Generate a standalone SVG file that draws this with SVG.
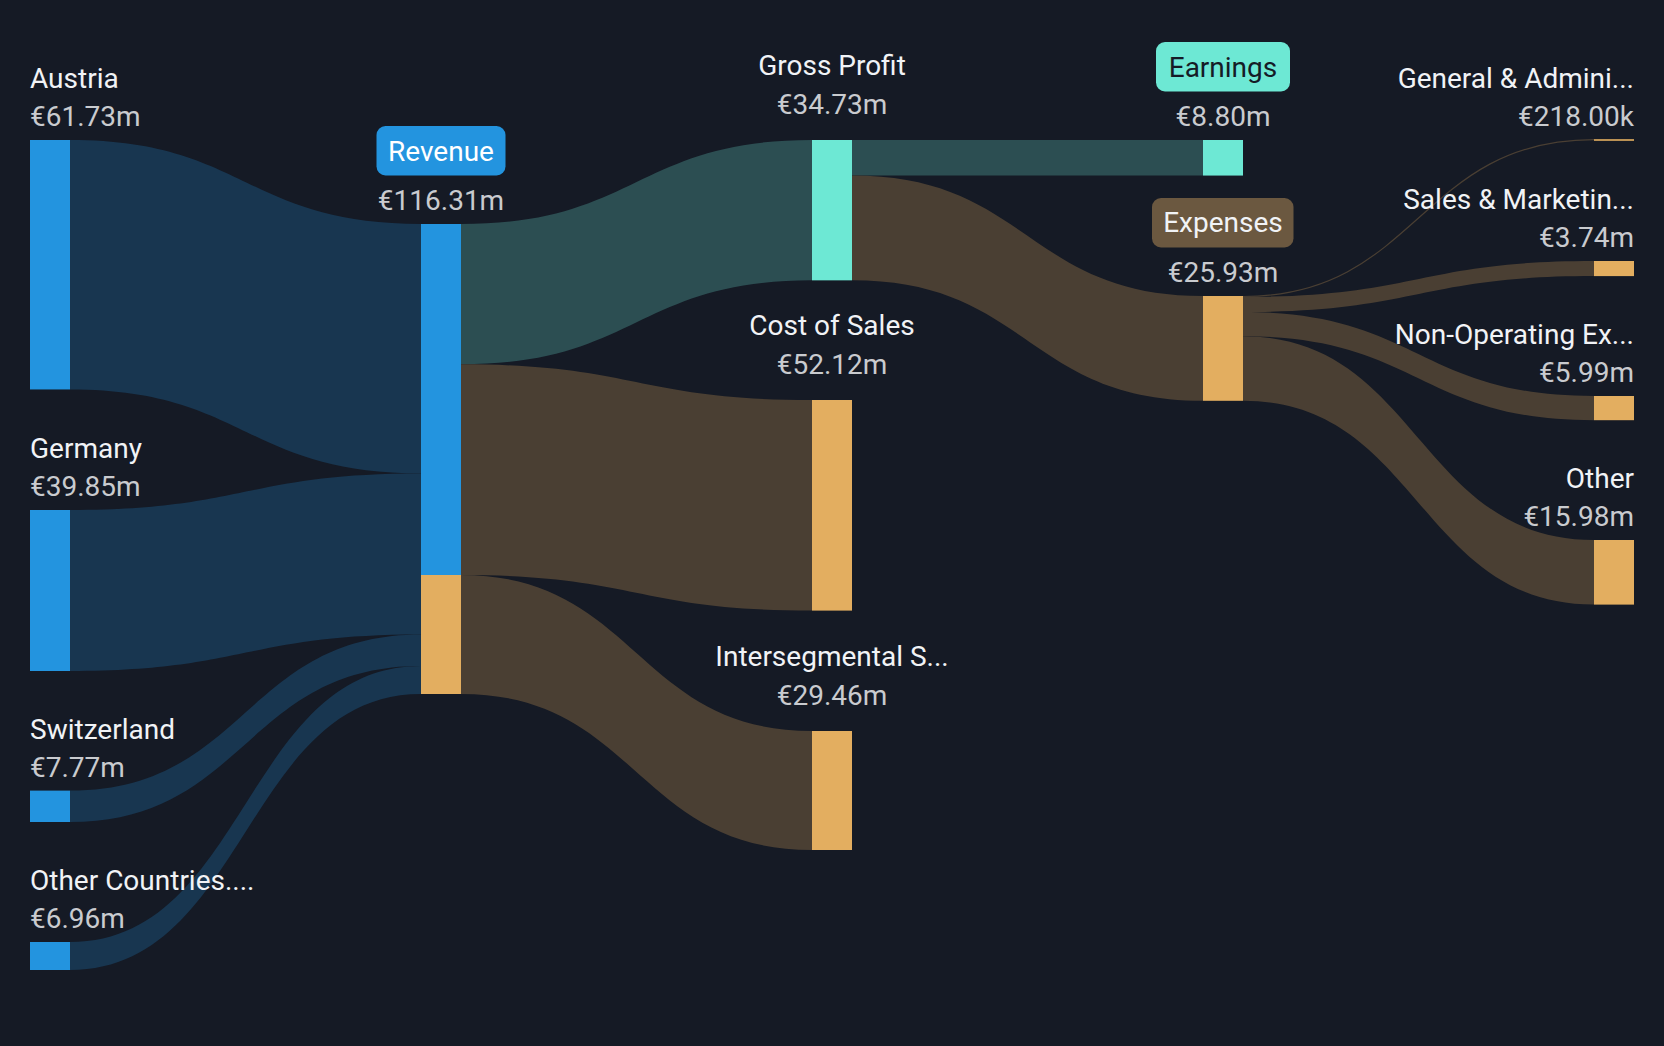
<svg xmlns="http://www.w3.org/2000/svg" width="1664" height="1046" viewBox="0 0 1664 1046">
<style>
.lbl{font-family:Roboto,"Liberation Sans",sans-serif;font-size:28px;fill:#f1f3f6}
.val{font-family:Roboto,"Liberation Sans",sans-serif;font-size:28px;fill:#c9cbcf}
.dark{fill:#151b26}
.lb{fill:#183650}
.lt{fill:#2c4e52}
.lo{fill:#4a3f33}
.nb{fill:#2394df}
.nt{fill:#6de8d4}
.no{fill:#e3ae60}
</style>
<rect width="1664" height="1046" fill="#151a25"/>
<g id="connectors">
<path class="lb" d="M70,140 C245.5,140 245.5,224 421,224 L421,473.45 C245.5,473.45 245.5,389.45 70,389.45 Z"/>
<path class="lb" d="M70,510 C245.5,510 245.5,473.45 421,473.45 L421,634.48 C245.5,634.48 245.5,671 70,671 Z"/>
<path class="lb" d="M70,790.6 C245.5,790.6 245.5,634.48 421,634.48 L421,665.88 C245.5,665.88 245.5,822 70,822 Z"/>
<path class="lb" d="M70,942 C245.5,942 245.5,665.88 421,665.88 L421,694 C245.5,694 245.5,970 70,970 Z"/>
<path class="lt" d="M461,224 C636.5,224 636.5,140 812,140 L812,280.35 C636.5,280.35 636.5,364.35 461,364.35 Z"/>
<path class="lo" d="M461,364.35 C636.5,364.35 636.5,400 812,400 L812,610.6 C636.5,610.6 636.5,575 461,575 Z"/>
<path class="lo" d="M461,575 C636.5,575 636.5,731 812,731 L812,850 C636.5,850 636.5,694 461,694 Z"/>
<path class="lt" d="M852,140 C1027.5,140 1027.5,140 1203,140 L1203,175.56 C1027.5,175.56 1027.5,175.56 852,175.56 Z"/>
<path class="lo" d="M852,175.56 C1027.5,175.56 1027.5,296 1203,296 L1203,400.8 C1027.5,400.8 1027.5,280.35 852,280.35 Z"/>
<path fill="none" stroke="#4a3f33" stroke-width="1.2" d="M1243,296.5 C1418.5,296.5 1418.5,139.6 1594,139.6"/>
<path class="lo" d="M1243,296.88 C1418.5,296.88 1418.5,261 1594,261 L1594,276.1 C1418.5,276.1 1418.5,312 1243,312 Z"/>
<path class="lo" d="M1243,312 C1418.5,312 1418.5,396 1594,396 L1594,420.2 C1418.5,420.2 1418.5,336.2 1243,336.2 Z"/>
<path class="lo" d="M1243,336.2 C1418.5,336.2 1418.5,540 1594,540 L1594,604.6 C1418.5,604.6 1418.5,400.8 1243,400.8 Z"/>
</g>
<g id="austria"><rect class="nb" x="30" y="140" width="40" height="249.45"/><text class="lbl" x="30" y="88">Austria</text><text class="val" x="30" y="126">€61.73m</text></g>
<g id="germany"><rect class="nb" x="30" y="510" width="40" height="161"/><text class="lbl" x="30" y="458">Germany</text><text class="val" x="30" y="496">€39.85m</text></g>
<g id="switzerland"><rect class="nb" x="30" y="790.6" width="40" height="31.4"/><text class="lbl" x="30" y="738.6">Switzerland</text><text class="val" x="30" y="776.6">€7.77m</text></g>
<g id="other-countries"><rect class="nb" x="30" y="942" width="40" height="28"/><text class="lbl" x="30" y="890">Other Countries....</text><text class="val" x="30" y="928">€6.96m</text></g>
<g id="revenue"><rect class="nb" x="421" y="224" width="40" height="351"/><rect class="no" x="421" y="575" width="40" height="119"/><rect class="nb" x="376.5" y="126" width="129" height="49.5" rx="9"/><text class="lbl" x="441" y="160.5" text-anchor="middle" style="fill:#ffffff">Revenue</text><text class="val" x="441" y="210" text-anchor="middle">€116.31m</text></g>
<g id="gross-profit"><rect class="nt" x="812" y="140" width="40" height="140.35"/><text class="lbl" x="832" y="75" text-anchor="middle">Gross Profit</text><text class="val" x="832" y="113.5" text-anchor="middle">€34.73m</text></g>
<g id="cost-of-sales"><rect class="no" x="812" y="400" width="40" height="210.6"/><text class="lbl" x="832" y="335" text-anchor="middle">Cost of Sales</text><text class="val" x="832" y="373.5" text-anchor="middle">€52.12m</text></g>
<g id="intersegmental"><rect class="no" x="812" y="731" width="40" height="119"/><text class="lbl" x="832" y="666" text-anchor="middle">Intersegmental S...</text><text class="val" x="832" y="704.5" text-anchor="middle">€29.46m</text></g>
<g id="earnings"><rect class="nt" x="1203" y="140" width="40" height="35.56"/><rect class="nt" x="1156" y="42" width="134" height="49.5" rx="9"/><text class="lbl" x="1223" y="76.5" text-anchor="middle" style="fill:#151b26">Earnings</text><text class="val" x="1223" y="126" text-anchor="middle">€8.80m</text></g>
<g id="expenses"><rect class="no" x="1203" y="296" width="40" height="104.8"/><rect x="1152" y="198" width="141.5" height="49.5" rx="9" fill="#6b5840"/><text class="lbl" x="1223" y="232" text-anchor="middle">Expenses</text><text class="val" x="1223" y="282" text-anchor="middle">€25.93m</text></g>
<g id="general-admin"><rect class="no" x="1594" y="139.2" width="40" height="1.6"/><text class="lbl" x="1634" y="88" text-anchor="end">General &amp; Admini...</text><text class="val" x="1634" y="126" text-anchor="end">€218.00k</text></g>
<g id="sales-marketing"><rect class="no" x="1594" y="261" width="40" height="15.1"/><text class="lbl" x="1634" y="209" text-anchor="end">Sales &amp; Marketin...</text><text class="val" x="1634" y="247" text-anchor="end">€3.74m</text></g>
<g id="non-operating"><rect class="no" x="1594" y="396" width="40" height="24.2"/><text class="lbl" x="1634" y="344" text-anchor="end">Non-Operating Ex...</text><text class="val" x="1634" y="382" text-anchor="end">€5.99m</text></g>
<g id="other"><rect class="no" x="1594" y="540" width="40" height="64.6"/><text class="lbl" x="1634" y="488" text-anchor="end">Other</text><text class="val" x="1634" y="526" text-anchor="end">€15.98m</text></g>
</svg>
